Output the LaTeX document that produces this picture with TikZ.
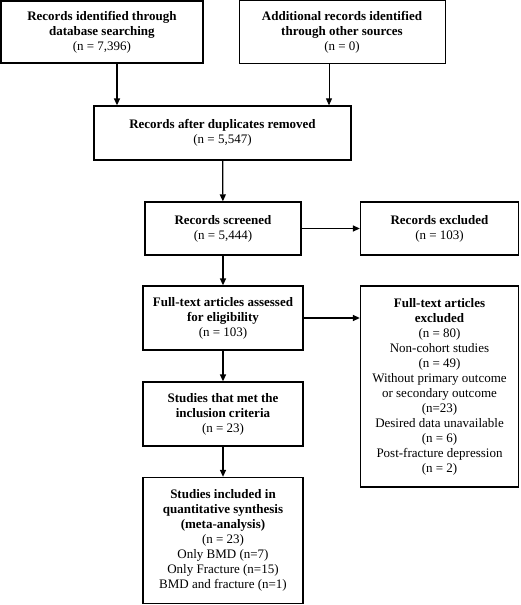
\documentclass[tikz,border=0pt]{standalone}
\usepackage{fontspec}
\setmainfont{Liberation Serif}
\usetikzlibrary{arrows.meta}
\begin{document}
\begin{tikzpicture}[x=1pt,y=1pt,
  box/.style={draw=black, line width=1.3pt, align=center, inner sep=2pt,
    font=\fontsize{13}{15}\selectfont},
  thinbox/.style={box, line width=0.8pt},
  arr/.style={line width=1.3pt, -{Triangle[length=7pt,width=6pt]}},
  thinarr/.style={arr, line width=0.8pt}]
\useasboundingbox (0,0) rectangle (520,-605);
\node[box, minimum width=202, minimum height=62] (b1) at (101.9,-31.9)
  {\textbf{Records identified through}\\\textbf{database searching}\\(n = 7,396)};
\node[thinbox, minimum width=206, minimum height=62] (b2) at (342,-31.9)
  {\textbf{Additional records identified}\\\textbf{through other sources}\\(n = 0)};
\node[box, minimum width=257, minimum height=54] (b3) at (222.5,-133)
  {\textbf{Records after duplicates removed}\\(n = 5,547)};
\node[box, minimum width=156, minimum height=53] (b4) at (223,-228.5)
  {\textbf{Records screened}\\(n = 5,444)};
\node[box, minimum width=158, minimum height=53] (b5) at (439.5,-228.5)
  {\textbf{Records excluded}\\(n = 103)};
\node[box, minimum width=160, minimum height=64] (b6) at (223,-318)
  {\textbf{Full-text articles assessed}\\\textbf{for eligibility}\\(n = 103)};
\node[box, minimum width=158, minimum height=201] (b7) at (439.5,-386.5)
  {\textbf{Full-text articles}\\\textbf{excluded}\\(n = 80)\\Non-cohort studies\\(n = 49)\\Without primary outcome\\or secondary outcome\\(n=23)\\Desired data unavailable\\(n = 6)\\Post-fracture depression\\(n = 2)};
\node[box, minimum width=160, minimum height=64] (b8) at (223,-414)
  {\textbf{Studies that met the}\\\textbf{inclusion criteria}\\(n = 23)};
\node[box, minimum width=160, minimum height=126] (b9) at (223,-540.5)
  {\textbf{Studies included in}\\\textbf{quantitative synthesis}\\\textbf{(meta-analysis)}\\(n = 23)\\Only BMD (n=7)\\Only Fracture (n=15)\\BMD and fracture (n=1)};
\coordinate (c1) at (117,0);
\coordinate (c2) at (329,0);
\draw[arr] (b1.south -| c1) -- (b3.north -| c1);
\draw[thinarr] (b2.south -| c2) -- (b3.north -| c2);
\draw[arr] (b3) -- (b4);
\draw[arr] (b4) -- (b5);
\draw[arr] (b4) -- (b6);
\draw[arr] (b6.east) -- (b6.east -| b7.west);
\draw[arr] (b6) -- (b8);
\draw[arr] (b8) -- (b9);
\end{tikzpicture}
\end{document}
